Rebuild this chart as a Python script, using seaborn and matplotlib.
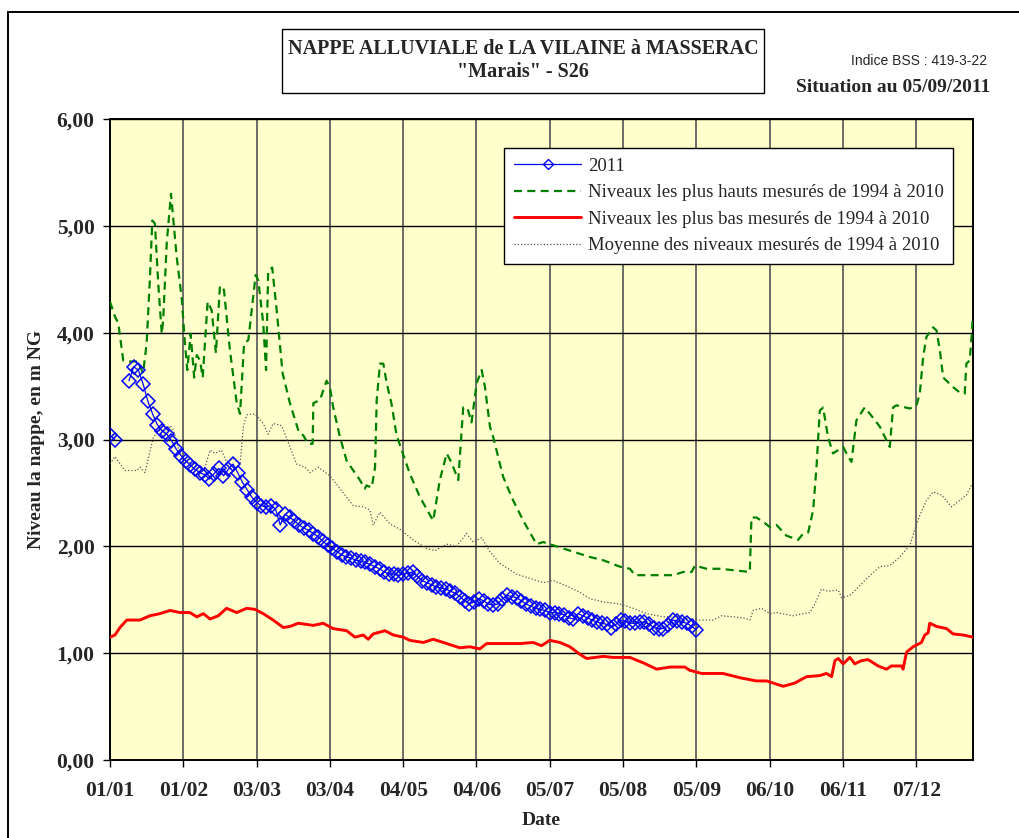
import numpy as np
import pandas as pd
import matplotlib
matplotlib.use("Agg")
import matplotlib.pyplot as plt
import seaborn as sns
from matplotlib.lines import Line2D
from matplotlib.patches import Rectangle

# ---------------- data (day offset from 1 January, level in m NG) ----------------
tick_days = [0, 31, 62, 93, 124, 155, 186, 217, 248, 279, 310, 341]
tick_labels = ["01/01", "01/02", "03/03", "03/04", "04/05", "04/06",
               "05/07", "05/08", "05/09", "06/10", "06/11", "07/12"]
y_ticks = [0, 1, 2, 3, 4, 5, 6]

# 2011 measurements
blue_days_a = [0, 2]
blue_vals_a = [3.04, 3.00]
blue_days_b = list(range(8, 249, 2))
blue_vals_b = [
    3.55, 3.68, 3.65, 3.52, 3.36, 3.24, 3.14, 3.08, 3.05, 2.99,
    2.91, 2.85, 2.80, 2.76, 2.72, 2.69, 2.67, 2.63, 2.68, 2.73,
    2.66, 2.72, 2.77, 2.69, 2.60, 2.53, 2.46, 2.41, 2.38, 2.37,
    2.38, 2.35, 2.20, 2.30, 2.27, 2.24, 2.20, 2.17, 2.15, 2.12,
    2.09, 2.05, 2.01, 1.98, 1.95, 1.92, 1.90, 1.89, 1.87, 1.86,
    1.85, 1.83, 1.81, 1.79, 1.76, 1.74, 1.74, 1.73, 1.74, 1.75,
    1.76, 1.72, 1.68, 1.66, 1.64, 1.62, 1.61, 1.60, 1.58, 1.56,
    1.53, 1.49, 1.46, 1.48, 1.51, 1.49, 1.46, 1.45, 1.46, 1.51,
    1.54, 1.53, 1.52, 1.49, 1.46, 1.44, 1.42, 1.41, 1.40, 1.38,
    1.38, 1.37, 1.36, 1.33, 1.32, 1.37, 1.35, 1.33, 1.31, 1.29,
    1.28, 1.27, 1.24, 1.27, 1.31, 1.30, 1.28, 1.28, 1.29, 1.29,
    1.27, 1.24, 1.23, 1.23, 1.26, 1.31, 1.30, 1.29, 1.28, 1.25,
    1.22]

# highest levels 1994-2010
max_days = [0, 2.1, 3.5, 5.6, 8.0, 11.8, 14.0, 15.5, 16.9, 17.9, 19.0, 20.4, 21.9, 22.5,
            24.0, 25.8, 28.2, 30.3, 31.7, 32.7, 34.1, 35.6, 36.7, 38.1, 39.2, 41.3, 43.0,
            44.8, 46.5, 48.2, 50.7, 53.6, 55.0, 56.7, 58.5, 61.6, 62.7, 64.8, 66.0, 66.9,
            68.6, 70.5, 73.0, 76.1, 80.0, 81.7, 83.8, 85.7, 86.0, 88.8, 91.6, 93.0, 94.4,
            97.3, 100.1, 102.9, 105.7, 107.8, 108.5, 110.7, 112.1, 112.8, 114.2, 115.6,
            117.0, 119.1, 121.2, 126.8, 131.1, 136.7, 139.5, 142.4, 144.5, 147.3, 149.4,
            151.1, 152.9, 155.1, 157.2, 158.6, 160.7, 162.1, 166.3, 170.5, 174.8, 180.4,
            183.2, 187.4, 195.9, 203.0, 208.6, 215.6, 219.9, 222.0, 238.2, 242.4, 246.0,
            247.4, 252.3, 257.9, 270.6, 271.3, 273.4, 276.2, 279.1, 281.9, 286.1, 291.0,
            293.2, 295.3, 297.4, 298.8, 300.2, 301.6, 303.7, 305.8, 310.1, 312.2, 313.6,
            315.7, 319.2, 321.4, 325.6, 329.8, 331.2, 332.6, 338.3, 341.1, 342.5, 343.9,
            345.3, 348.1, 349.6, 351.0, 352.4, 356.6, 359.4, 361.5, 362.2, 363.6, 364.4,
            364.9]
max_vals = [4.29, 4.15, 4.09, 3.74, 3.73, 3.73, 3.62, 3.90, 4.52, 5.05, 5.02, 4.46, 3.99, 4.12,
            4.84, 5.30, 4.71, 4.33, 3.90, 3.65, 3.99, 3.58, 3.79, 3.74, 3.58, 4.29, 4.21,
            3.81, 4.44, 4.40, 3.84, 3.34, 3.24, 3.90, 3.93, 4.54, 4.49, 4.09, 3.65, 4.58,
            4.61, 4.21, 3.62, 3.34, 3.06, 3.04, 2.96, 2.96, 3.34, 3.37, 3.55, 3.49, 3.30,
            3.02, 2.80, 2.71, 2.62, 2.54, 2.57, 2.55, 2.74, 3.37, 3.71, 3.71,
            3.53, 3.33, 3.04, 2.68, 2.46, 2.24, 2.62, 2.87, 2.78, 2.62, 3.30,
            3.30, 3.16, 3.53, 3.65, 3.49, 3.12, 3.02, 2.65, 2.43, 2.24, 2.02,
            2.04, 2.01, 1.95, 1.90, 1.87, 1.81, 1.79, 1.73, 1.73, 1.76, 1.76,
            1.82, 1.79, 1.79, 1.76, 2.27, 2.27, 2.23, 2.18, 2.20, 2.10, 2.06,
            2.12, 2.13, 2.34, 2.74, 3.27, 3.30, 3.02, 2.87, 2.93, 2.84, 2.79,
            3.18, 3.30, 3.24, 3.12, 2.93, 3.30, 3.32, 3.29, 3.32, 3.43, 3.77,
            3.96, 4.05, 4.02, 3.83, 3.58, 3.49, 3.44, 3.43, 3.71, 3.74, 3.96,
            4.15]

# lowest levels 1994-2010
min_days = [0, 2.1, 4.2, 7.1, 12.7, 16.9, 21.1, 25.4, 29.6, 33.8, 36.7, 39.5, 42.3, 45.8,
            49.3, 53.6, 57.8, 61.3, 64.8, 69.0, 73.3, 76.1, 79.6, 86.0, 90.2, 94.4, 100.1,
            103.6, 107.1, 109.2, 111.3, 116.3, 119.8, 124.0, 126.8, 132.5, 136.7, 142.4,
            148.0, 152.2, 156.4, 159.3, 166.3, 173.4, 179.0, 182.5, 186.0, 190.3, 194.5,
            198.7, 201.6, 208.6, 212.8, 219.9, 225.5, 231.2, 236.8, 243.1, 245.2, 250.2,
            259.3, 266.4, 273.4, 277.7, 281.9, 284.7, 289.6, 294.6, 300.2, 303.0, 305.2,
            306.6, 308.0, 310.1, 312.9, 315.0, 317.8, 320.6, 324.9, 328.4, 330.5, 334.8,
            335.4, 336.9, 339.7, 343.2, 344.6, 346.0, 346.7, 349.6, 353.8, 356.6, 360.8,
            365.0]
min_vals = [1.15, 1.17, 1.24, 1.31, 1.31, 1.35, 1.37, 1.40, 1.38, 1.38, 1.34, 1.37, 1.32, 1.35,
            1.42, 1.38, 1.42, 1.41, 1.37, 1.31, 1.24, 1.25, 1.28, 1.26, 1.28, 1.23, 1.21,
            1.15, 1.17, 1.13, 1.18, 1.21, 1.17, 1.15, 1.12, 1.10, 1.13, 1.09,
            1.05, 1.06, 1.04, 1.09, 1.09, 1.09, 1.10, 1.07, 1.12, 1.10, 1.06,
            0.99, 0.95, 0.97, 0.96, 0.96, 0.91, 0.85, 0.87, 0.87, 0.84, 0.81,
            0.81, 0.77, 0.74, 0.74, 0.71, 0.69, 0.72, 0.78, 0.79, 0.81, 0.78,
            0.93, 0.95, 0.90, 0.96, 0.90, 0.93, 0.94, 0.88, 0.85, 0.88, 0.88,
            0.85, 1.01, 1.06, 1.10, 1.17, 1.19, 1.28, 1.25, 1.23, 1.18, 1.17,
            1.15]

# mean levels 1994-2010
mean_days = [0, 2.1, 6.3, 11.3, 12.7, 14.8, 18.3, 21.1, 23.3, 25.4, 26.8, 29.6, 32.4, 38.1,
             40.2, 42.3, 44.4, 47.2, 49.3, 52.1, 55.0, 56.4, 57.8, 61.3, 64.8, 66.9, 69.0,
             72.6, 74.7, 78.9, 82.5, 84.6, 88.1, 93.0, 97.3, 102.9, 107.1, 109.9, 111.3,
             114.2, 118.4, 122.6, 128.2, 133.9, 137.4, 142.4, 146.6, 150.8, 153.6, 157.2,
             160.7, 164.9, 172.0, 176.2, 183.2, 187.4, 193.1, 198.7, 203.0, 208.6, 215.6,
             221.3, 226.9, 234.0, 239.6, 245.2, 249.5, 255.1, 258.6, 263.6, 267.8, 270.6,
             272.0, 275.6, 279.1, 281.9, 288.9, 293.2, 296.0, 298.1, 300.9, 303.7, 308.0,
             309.4, 312.9, 315.7, 319.2, 322.1, 325.6, 329.8, 334.0, 338.3, 340.4, 342.5,
             345.3, 348.1, 351.7, 355.9, 359.4, 362.2, 364.8]
mean_vals = [2.77, 2.84, 2.71, 2.71, 2.74, 2.69, 3.02, 3.09, 3.07, 3.13, 3.09, 2.87, 2.80, 2.73,
             2.74, 2.90, 2.87, 2.90, 2.79, 2.82, 2.77, 3.12, 3.23, 3.24, 3.15, 3.05, 3.15,
             3.13, 3.01, 2.77, 2.74, 2.69, 2.74, 2.66, 2.54, 2.38, 2.37, 2.34, 2.20,
             2.32, 2.21, 2.16, 2.06, 1.98, 1.96, 2.02, 2.00, 2.12, 2.04, 2.08,
             1.95, 1.84, 1.74, 1.71, 1.66, 1.68, 1.63, 1.57, 1.51, 1.48, 1.46,
             1.42, 1.37, 1.34, 1.34, 1.32, 1.31, 1.31, 1.35, 1.34, 1.33, 1.31,
             1.40, 1.42, 1.37, 1.38, 1.35, 1.37, 1.38, 1.46, 1.60, 1.58, 1.59,
             1.52, 1.54, 1.60, 1.68, 1.74, 1.81, 1.82, 1.90, 2.01, 2.16, 2.29,
             2.43, 2.51, 2.48, 2.37, 2.43, 2.48, 2.59]

labels = ["2011",
          "Niveaux les plus hauts mesurés de 1994 à 2010",
          "Niveaux les plus bas mesurés de 1994 à 2010",
          "Moyenne des niveaux mesurés de 1994 à 2010"]

# ---------------- frames ----------------
df_blue = pd.DataFrame({
    "day": blue_days_a + blue_days_b,
    "val": blue_vals_a + blue_vals_b,
    "seg": [0] * len(blue_days_a) + [1] * len(blue_days_b)})
df_max = pd.DataFrame({"day": max_days, "val": max_vals})
df_min = pd.DataFrame({"day": min_days, "val": min_vals})
df_mean = pd.DataFrame({"day": mean_days, "val": mean_vals})

# ---------------- style ----------------
sns.set_theme(style="white")
plt.rcParams['font.family'] = ['Liberation Serif', 'DejaVu Serif']

W, H = 1020, 838
fig = plt.figure(figsize=(W / 100, H / 100), dpi=100)
ax = fig.add_axes([110 / W, 1 - 760 / H, 863 / W, 641 / H])
ax.set_facecolor('#FFFFCC')

c_max, c_min, c_mean, c_blue = '#008000', '#FF0000', '#555555', '#0000FF'
dash_max = (0, (3.6, 2.4))
dot_mean = (0, (1, 1.6))

sns.lineplot(data=df_mean, x="day", y="val", ax=ax, color=c_mean, lw=0.9,
             linestyle=dot_mean, legend=False, sort=False, zorder=3)
sns.lineplot(data=df_max, x="day", y="val", ax=ax, color=c_max, lw=1.6,
             linestyle=dash_max, legend=False, sort=False, zorder=4)
sns.lineplot(data=df_min, x="day", y="val", ax=ax, color=c_min, lw=2.1,
             legend=False, sort=False, zorder=4)
sns.lineplot(data=df_blue, x="day", y="val", units="seg", estimator=None, ax=ax,
             color=c_blue, lw=0.9, marker='D', markersize=7,
             markerfacecolor='none', markeredgecolor=c_blue, markeredgewidth=1.1,
             legend=False, sort=False, zorder=5)

ax.set_xlim(0, 365)
ax.set_ylim(0, 6)
ax.set_xticks(tick_days)
ax.set_xticklabels(tick_labels)
ax.set_yticks(y_ticks)
ax.set_yticklabels([f"{v:.2f}".replace('.', ',') for v in y_ticks])

ax.xaxis.grid(True, color='#606060', lw=1.3)
ax.yaxis.grid(True, color='black', lw=1.0)
ax.set_axisbelow(True)
for s in ax.spines.values():
    s.set_color('black')
    s.set_linewidth(1.4)

ax.tick_params(axis='both', which='major', direction='out', length=5, width=1,
               color='black', labelsize=15.5, bottom=True, left=True)
ax.tick_params(axis='x', pad=10)
ax.tick_params(axis='y', pad=6)
for t in ax.get_xticklabels() + ax.get_yticklabels():
    t.set_fontweight('bold')

ax.set_xlabel("Date", fontsize=14, fontweight='bold', labelpad=8)
ax.set_ylabel("Niveau la nappe, en m NG", fontsize=14, fontweight='bold', labelpad=8)

# legend
handles = [
    Line2D([], [], color=c_blue, lw=0.9, marker='D', markersize=5,
           markerfacecolor='none', markeredgecolor=c_blue),
    Line2D([], [], color=c_max, lw=1.6, linestyle=dash_max),
    Line2D([], [], color=c_min, lw=2.1),
    Line2D([], [], color=c_mean, lw=0.9, linestyle=dot_mean),
]
leg = ax.legend(handles, labels, loc='upper right', bbox_to_anchor=(0.977, 0.954),
                fontsize=13.5, frameon=True, fancybox=False, framealpha=1,
                edgecolor='black', facecolor='white', handlelength=3.6,
                labelspacing=0.5, borderpad=0.5, handletextpad=0.35,
                borderaxespad=0)
leg.get_frame().set_linewidth(1.0)

# title box and annotations
fig.patches.append(Rectangle((282 / W, 1 - 93 / H), (764 - 282) / W, (93 - 29) / H,
                             transform=fig.transFigure, fill=True, fc='white',
                             ec='black', lw=1.0))
fig.text(523 / W, 1 - 49 / H, "NAPPE ALLUVIALE de LA VILAINE à MASSERAC",
         ha='center', va='center', fontsize=14.5, fontweight='bold')
fig.text(523 / W, 1 - 72 / H, '"Marais" - S26',
         ha='center', va='center', fontsize=14.5, fontweight='bold')
fig.text(987 / W, 1 - 61 / H, "Indice BSS : 419-3-22", ha='right', va='center',
         fontsize=10, family=['Liberation Sans', 'DejaVu Sans'])
fig.text(990 / W, 1 - 87 / H, "Situation au 05/09/2011", ha='right', va='center',
         fontsize=14, fontweight='bold')

# outer frame
fig.patches.append(Rectangle((8 / W, -0.05), 1.2, 1 - 12.5 / H + 0.05,
                             transform=fig.transFigure, fill=False,
                             ec='black', lw=1.4))

fig.savefig("out.png", dpi=100)
